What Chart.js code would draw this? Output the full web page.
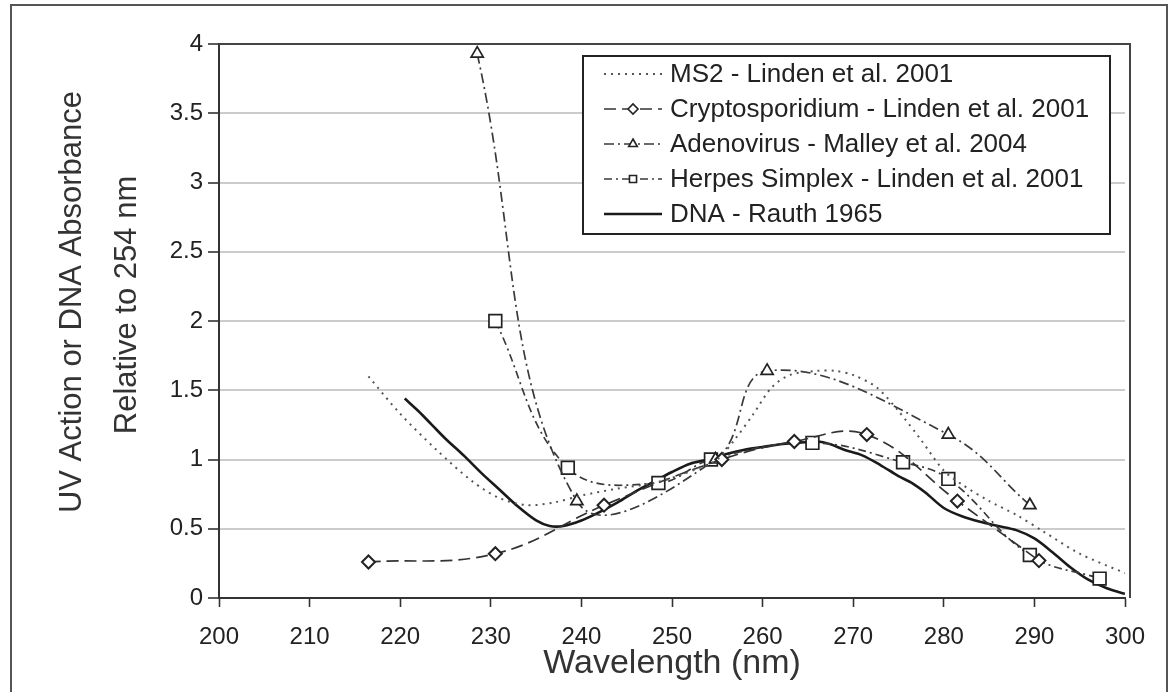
<!DOCTYPE html>
<html>
<head>
<meta charset="utf-8">
<script src="https://cdn.jsdelivr.net/npm/chart.js@4"></script>
<style>
  html, body { margin: 0; padding: 0; background: #ffffff; }
  #wrap { width: 1171px; height: 692px; position: relative; }
</style>
</head>
<body>
<div id="wrap"><canvas id="c" width="1171" height="692"></canvas></div>
<script>
// ---- data ----
const xTicks = [200, 210, 220, 230, 240, 250, 260, 270, 280, 290, 300];
const yTicks = [0, 0.5, 1, 1.5, 2, 2.5, 3, 3.5, 4];

const ms2Label = "MS2 - Linden et al. 2001";
const ms2X = [216.5, 220, 224, 228, 231, 234, 237, 240, 244, 248, 251, 253, 255, 257, 259, 261, 263, 266, 268, 270, 272.6, 275, 277.5, 280, 282, 285, 288, 291, 295, 300];
const ms2Y = [1.60, 1.33, 1.07, 0.84, 0.72, 0.67, 0.69, 0.74, 0.79, 0.83, 0.89, 0.94, 1.00, 1.15, 1.33, 1.52, 1.61, 1.64, 1.64, 1.61, 1.52, 1.35, 1.14, 0.92, 0.82, 0.70, 0.60, 0.48, 0.32, 0.18];

const cryptoLabel = "Cryptosporidium - Linden et al. 2001";
const cryptoX = [216.5, 230.5, 242.5, 255.5, 263.5, 271.5, 281.5, 290.5];
const cryptoY = [0.26, 0.32, 0.67, 1.00, 1.13, 1.18, 0.70, 0.27];

const adenoLabel = "Adenovirus - Malley et al. 2004";
const adenoX = [228.5, 239.5, 254.8, 260.5, 280.5, 289.5];
const adenoY = [3.93, 0.70, 1.00, 1.64, 1.18, 0.67];

const herpesLabel = "Herpes Simplex - Linden et al. 2001";
const herpesX = [230.5, 238.5, 248.5, 254.3, 265.5, 275.5, 280.5, 289.5, 297.2];
const herpesY = [2.00, 0.94, 0.83, 1.00, 1.12, 0.98, 0.86, 0.31, 0.14];

const dnaLabel = "DNA - Rauth 1965";
const dnaX = [220.5, 222, 223.5, 225, 227, 229, 231, 233, 235, 236.5, 238, 240, 242, 244, 246, 248, 250, 252, 254, 256, 258, 260, 262, 264, 266, 267.5, 269, 271, 273, 275, 276.5, 278, 280, 282, 284, 286, 288, 290, 292, 294, 296, 298, 300];
const dnaY = [1.44, 1.35, 1.25, 1.15, 1.03, 0.90, 0.78, 0.66, 0.56, 0.52, 0.52, 0.56, 0.62, 0.69, 0.77, 0.84, 0.91, 0.97, 1.00, 1.04, 1.07, 1.09, 1.11, 1.12, 1.13, 1.11, 1.07, 1.03, 0.96, 0.88, 0.83, 0.76, 0.65, 0.59, 0.55, 0.52, 0.49, 0.43, 0.33, 0.22, 0.13, 0.07, 0.03];

const xTitle = "Wavelength (nm)";
const yTitle1 = "UV Action or DNA Absorbance";
const yTitle2 = "Relative to 254 nm";

// ---- build ----
function pts(xs, ys) { return xs.map((x, i) => ({ x: x, y: ys[i] })); }

const ink = '#222222';
const datasets = [
  { label: ms2Label, data: pts(ms2X, ms2Y), borderColor: '#555555', borderWidth: 2, borderDash: [2, 5],
    pointRadius: 0, tension: 0.3, legendMarker: null },
  { label: cryptoLabel, data: pts(cryptoX, cryptoY), borderColor: '#333333', borderWidth: 1.7, borderDash: [12, 6],
    pointStyle: 'rectRot', pointRadius: 6.5, pointBackgroundColor: '#ffffff', pointBorderColor: ink, pointBorderWidth: 2,
    tension: 0.4, legendMarker: 'rectRot' },
  { label: adenoLabel, data: pts(adenoX, adenoY), borderColor: '#3a3a3a', borderWidth: 1.7, borderDash: [10, 4, 2, 4],
    pointStyle: 'triangle', pointRadius: 7, pointBackgroundColor: '#ffffff', pointBorderColor: ink, pointBorderWidth: 1.7,
    tension: 0.4, legendMarker: 'triangle' },
  { label: herpesLabel, data: pts(herpesX, herpesY), borderColor: '#3a3a3a', borderWidth: 1.7, borderDash: [8, 4, 2, 4],
    pointStyle: 'rect', pointRadius: 9, pointBackgroundColor: '#ffffff', pointBorderColor: ink, pointBorderWidth: 1.7,
    tension: 0.4, legendMarker: 'rect' },
  { label: dnaLabel, data: pts(dnaX, dnaY), borderColor: '#1a1a1a', borderWidth: 2.6, borderDash: [],
    pointRadius: 0, tension: 0.3, legendMarker: null }
];

const tickFont = { family: '"Liberation Sans", Arial, sans-serif', size: 24 };

const framePlugin = {
  id: 'framePlugin',
  afterDraw(chart) {
    const ctx = chart.ctx, a = chart.chartArea;
    ctx.save();
    // plot frame top & right
    ctx.strokeStyle = '#444444';
    ctx.lineWidth = 2;
    ctx.beginPath();
    ctx.moveTo(a.left, a.top); ctx.lineTo(a.right + 5, a.top); ctx.lineTo(a.right + 5, a.bottom);
    ctx.stroke();
    // outer figure border
    ctx.strokeStyle = '#555555';
    ctx.lineWidth = 2;
    ctx.strokeRect(11, 5, 1156, 700);

    // y-axis title (two lines, rotated)
    ctx.fillStyle = '#333333';
    ctx.font = '31px "Liberation Sans", Arial, sans-serif';
    ctx.textAlign = 'center';
    ctx.textBaseline = 'middle';
    ctx.save(); ctx.translate(72, 302); ctx.rotate(-Math.PI / 2); ctx.fillText(yTitle1, 0, 0); ctx.restore();
    ctx.save(); ctx.translate(127, 305); ctx.rotate(-Math.PI / 2); ctx.fillText(yTitle2, 0, 0); ctx.restore();

    // legend box
    const bx = 583, by = 56, bw = 527, bh = 178;
    ctx.fillStyle = '#ffffff';
    ctx.fillRect(bx, by, bw, bh);
    ctx.strokeStyle = '#222222';
    ctx.lineWidth = 2;
    ctx.strokeRect(bx, by, bw, bh);
    chart.data.datasets.forEach((ds, i) => {
      const y = 74 + i * 35;
      ctx.save();
      ctx.strokeStyle = ds.borderColor;
      ctx.lineWidth = ds.borderWidth;
      ctx.setLineDash(ds.borderDash || []);
      ctx.beginPath(); ctx.moveTo(604, y); ctx.lineTo(662, y); ctx.stroke();
      ctx.restore();
      if (ds.legendMarker) {
        ctx.save();
        ctx.fillStyle = '#ffffff';
        ctx.strokeStyle = ink;
        ctx.lineWidth = 1.6;
        Chart.helpers.drawPoint(ctx, { pointStyle: ds.legendMarker, radius: 5, borderWidth: 1.6, rotation: 0 }, 633, y);
        ctx.restore();
      }
      ctx.fillStyle = '#222222';
      ctx.font = '26px "Liberation Sans", Arial, sans-serif';
      ctx.textAlign = 'left';
      ctx.textBaseline = 'middle';
      ctx.fillText(ds.label, 670, y + 1);
    });
    ctx.restore();
  }
};

new Chart(document.getElementById('c'), {
  type: 'line',
  data: { datasets: datasets },
  plugins: [framePlugin],
  options: {
    responsive: false,
    animation: false,
    devicePixelRatio: 1,
    layout: { padding: { left: 0, top: 44, right: 46, bottom: 0 } },
    plugins: { legend: { display: false }, tooltip: { enabled: false } },
    elements: { line: { fill: false } },
    scales: {
      x: {
        type: 'linear', min: 200, max: 300,
        afterBuildTicks(scale) { scale.ticks = xTicks.map(v => ({ value: v })); },
        afterFit(scale) { scale.height = 94; },
        grid: { drawOnChartArea: false, drawTicks: true, tickLength: 9, tickColor: '#333333', tickWidth: 1.6 },
        border: { display: true, color: '#333333', width: 2 },
        ticks: { color: '#222222', font: tickFont, padding: 16, maxRotation: 0, callback: (v) => String(v) },
        title: { display: true, text: xTitle, color: '#333333',
                 font: { family: '"Liberation Sans", Arial, sans-serif', size: 34, lineHeight: 1.2 },
                 padding: { top: 0, bottom: 8 } }
      },
      y: {
        type: 'linear', min: 0, max: 4,
        afterBuildTicks(scale) { scale.ticks = yTicks.map(v => ({ value: v })); },
        afterFit(scale) { scale.width = 219; },
        grid: {
          drawTicks: true, tickLength: 11, tickWidth: 1.6, tickColor: '#333333', lineWidth: 2,
          color: (c) => (c.tick && (c.tick.value === 0 || c.tick.value === 4)) ? 'rgba(0,0,0,0)' : '#cccccc'
        },
        border: { display: true, color: '#333333', width: 2 },
        ticks: { color: '#222222', font: tickFont, padding: 5, callback: (v) => String(v) }
      }
    }
  }
});
</script>
</body>
</html>
